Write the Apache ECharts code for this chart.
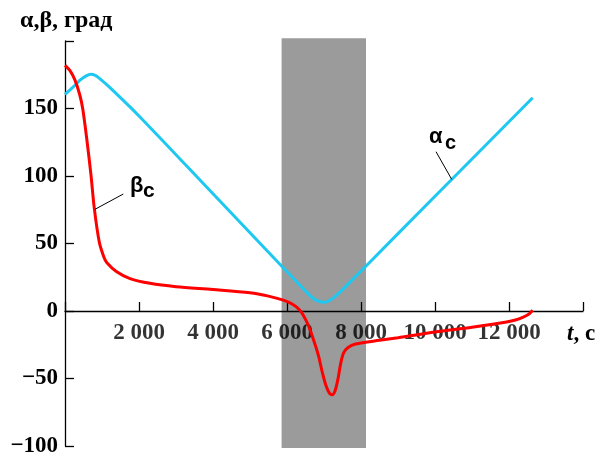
<!DOCTYPE html>
<html><head><meta charset="utf-8">
<script src="https://cdn.jsdelivr.net/npm/echarts@6/dist/echarts.min.js"></script>
<style>html,body{margin:0;padding:0;background:#fff}#c{width:599px;height:457px}</style>
</head><body><div id="c"></div>
<script>
// α_c (cyan)
const alphaTime  = [0, 225, 405, 560, 695, 830, 946, 1216, 2000, 4000, 6000, 6500, 6700, 6850, 7000, 7150, 7300, 7500, 9000, 11000, 12640];
const alphaValue = [160.5, 166, 171, 174, 175.3, 174.3, 172, 165.5, 144.5, 86.8, 29.1, 14.8, 9.6, 7.3, 6.5, 7.8, 10.8, 15.8, 57.3, 112.6, 158];
// β_c (red)
const betaTime  = [0, 135, 270, 400, 478, 586, 703, 792, 927, 1050, 1127, 1397, 1757, 2297, 3000, 4000, 5000, 5500, 5900, 6150, 6351, 6550, 6700, 6850, 6950, 7050, 7150, 7220, 7300, 7380, 7450, 7530, 7650, 7850, 8500, 9000, 10000, 11000, 11900, 12200, 12400, 12550, 12640];
const betaValue = [182, 178, 171, 160, 150, 128, 100.5, 76, 51, 40, 36, 29, 24, 20.5, 18, 15.9, 13.5, 11, 8, 5, 0.5, -9, -20, -33, -45, -55, -61, -62, -59, -50, -39, -31, -27, -24.5, -21.7, -19.8, -15.6, -12, -8.3, -6.5, -4.3, -2, 0.5];
// shaded interval [t0, t1, yBottom, yTop]
const bandStart = 5854, bandEnd = 8135, bandBottom = -101.5, bandTop = 202;
const xTickValues = [2000, 4000, 6000, 8000, 10000, 12000];
const xTickLabels = ['2 000', '4 000', '6 000', '8 000', '10 000', '12 000'];
const yTickValues = [-100, -50, 0, 50, 100, 150];
const yTickLabels = ['\u2212100', '\u221250', '0', '50', '100', '150'];

const serif = '"Liberation Serif","Times New Roman",serif';
const sans = '"Liberation Sans",Arial,sans-serif';
const zip = (a, b) => a.map((v, i) => [v, b[i]]);

const chart = echarts.init(document.getElementById('c'));
chart.setOption({
  animation: false,
  grid: {left: 65, right: 16, top: 41, bottom: 11, containLabel: false, outerBoundsMode: 'none'},
  xAxis: {
    type: 'value', min: 0, max: 14000, interval: 2000, z: 3,
    axisLine: {onZero: true, lineStyle: {color: '#000', width: 1.3}},
    axisTick: {inside: true, length: 9, lineStyle: {color: '#000', width: 1.3}},
    axisLabel: {show: false},
    splitLine: {show: false}
  },
  yAxis: {
    type: 'value', min: -100, max: 200, interval: 50, z: 3,
    axisLine: {show: true, onZero: false, lineStyle: {color: '#000', width: 1.3}},
    axisTick: {show: true, inside: true, length: 9, lineStyle: {color: '#000', width: 1.3}},
    axisLabel: {margin: 7, color: '#000', fontFamily: serif, fontWeight: 'bold', fontSize: 23,
      formatter: v => { const i = yTickValues.indexOf(v); return i < 0 ? '' : yTickLabels[i]; }},
    splitLine: {show: false}
  },
  series: [
    {
      type: 'custom', z: 1, clip: false, silent: true,
      data: [[bandStart, bandEnd, bandBottom, bandTop]],
      encode: {x: [0, 1], y: [2, 3]},
      renderItem: (params, api) => {
        const p0 = api.coord([api.value(0), api.value(3)]);
        const p1 = api.coord([api.value(1), api.value(2)]);
        return {type: 'rect', shape: {x: p0[0], y: p0[1], width: p1[0] - p0[0], height: p1[1] - p0[1]},
          style: {fill: '#9b9b9b'}};
      }
    },
    {
      // x tick labels, placed under the zero line
      type: 'scatter', z: 2, silent: true, symbolSize: 0,
      data: xTickValues.map(v => [v, 0]),
      label: {show: true, position: 'bottom', distance: 11, color: '#000',
        fontFamily: serif, fontWeight: 'bold', fontSize: 23,
        formatter: p => xTickLabels[p.dataIndex]}
    },
    {
      type: 'line', z: 4, data: zip(alphaTime, alphaValue), showSymbol: false,
      smooth: 0.3,
      lineStyle: {color: '#1ec8f0', width: 3}
    },
    {
      type: 'line', z: 5, data: zip(betaTime, betaValue), showSymbol: false,
      smooth: 0.3,
      lineStyle: {color: '#ff0000', width: 3}
    }
  ],
  graphic: [
    {type: 'text', x: 20, y: 21, z: 10, style: {text: 'α,β, град', font: 'bold 24px ' + serif, fill: '#000', verticalAlign: 'middle'}},
    {type: 'text', x: 567, y: 334.5, z: 10, style: {text: '{i|t}, c', fill: '#000', verticalAlign: 'middle',
      font: 'bold 23px ' + serif,
      rich: {i: {fontStyle: 'italic', fontWeight: 'bold', fontSize: 23, fontFamily: serif}}}},
    {type: 'text', x: 130, y: 186, z: 10, style: {text: 'β', font: 'bold 22px ' + sans, fill: '#000', verticalAlign: 'middle'}},
    {type: 'text', x: 143, y: 191, z: 10, style: {text: 'c', font: 'bold 21px ' + sans, fill: '#000', verticalAlign: 'middle'}},
    {type: 'line', z: 10, shape: {x1: 123.3, y1: 194, x2: 95, y2: 209.3}, style: {stroke: '#000', lineWidth: 1}},
    {type: 'text', x: 429, y: 137, z: 10, style: {text: 'α', font: 'bold 22px ' + sans, fill: '#000', verticalAlign: 'middle'}},
    {type: 'text', x: 445, y: 143.5, z: 10, style: {text: 'c', font: 'bold 20px ' + sans, fill: '#000', verticalAlign: 'middle'}},
    {type: 'line', z: 10, shape: {x1: 436, y1: 151.7, x2: 451.7, y2: 179.3}, style: {stroke: '#000', lineWidth: 1}}
  ]
});
</script></body></html>
